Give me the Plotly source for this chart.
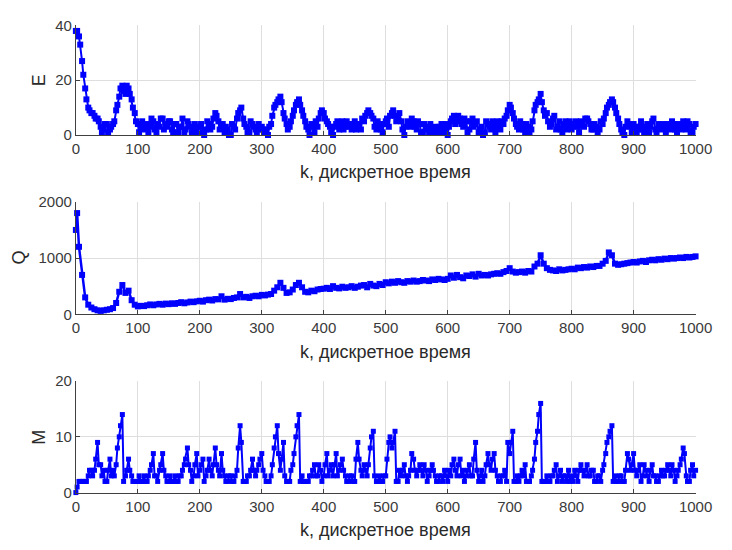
import plotly.graph_objects as go

# discrete time samples (main grid) and the extra in-between samples
k = [0, 2] + list(range(5, 1001, 5))
k_mid = list(range(7, 1000, 5))

E = [38, 38, 36, 27, 17, 10, 8, 7, 6, 3, 2, 4, 2, 4, 9, 14, 18, 15, 17, 13, 8,
     4, 3, 2, 4, 3, 5, 1, 3, 6, 4, 5, 2, 4, 1, 3, 1, 5, 3, 2, 1,
     3, 1, 2, 4, 3, 8, 5, 3, 1, 2, 0, 3, 6, 9, 6, 3, 1, 4, 2, 4,
     3, 1, 0, 4, 10, 12, 14, 8, 4, 3, 7, 11, 13, 9, 5, 2, 4, 1, 3, 8,
     8, 5, 3, 0, 4, 2, 5, 3, 4, 2, 5, 3, 2, 5, 8, 8, 6, 2, 4, 1,
     5, 3, 8, 7, 6, 5, 0, 5, 3, 5, 2, 4, 1, 3, 1, 2, 3, 1, 4, 2,
     0, 5, 7, 5, 6, 3, 5, 2, 6, 4, 1, 3, 1, 4, 2, 3, 5, 2, 4, 7,
     11, 8, 4, 2, 4, 1, 3, 2, 9, 12, 15, 9, 8, 3, 6, 2, 5, 1, 5, 3,
     2, 4, 3, 5, 3, 6, 4, 2, 3, 2, 4, 8, 11, 13, 10, 6, 2, 0, 5, 3,
     4, 1, 3, 2, 3, 1, 5, 2, 4, 2, 3, 4, 2, 4, 1, 3, 5, 2, 4, 1,
     4]

E_mid = [33, 22, 13, 9, 8, 6, 5, 1, 4, 1, 3, 5, 11, 17, 16, 18, 15, 10, 5,
         1, 5, 3, 1, 6, 2, 4, 6, 2, 3, 5, 1, 4, 3, 6, 2, 4, 1, 4, 3,
         4, 0, 5, 2, 6, 7, 2, 4, 3, 0, 4, 2, 8, 10, 4, 1, 5, 3, 1, 2,
         2, 2, 3, 7, 11, 13, 12, 6, 2, 5, 9, 12, 11, 7, 3, 0, 3, 5, 6, 9,
         6, 4, 1, 3, 5, 4, 2, 5, 3, 4, 2, 4, 6, 7, 9, 7, 3, 5, 2, 4,
         6, 7, 9, 5, 8, 2, 3, 4, 6, 3, 5, 1, 4, 2, 4, 1, 2, 3, 1, 4,
         3, 6, 4, 7, 4, 6, 1, 5, 3, 5, 2, 0, 5, 3, 5, 1, 3, 5, 6, 9,
         10, 6, 3, 5, 2, 4, 1, 5, 11, 13, 12, 7, 5, 4, 7, 3, 2, 4, 2, 5,
         3, 5, 1, 4, 6, 5, 2, 4, 1, 5, 6, 10, 12, 12, 8, 4, 1, 3, 4, 1,
         3, 2, 5, 1, 4, 3, 6, 1, 3, 4, 1, 3, 5, 2, 4, 2, 3, 5, 1, 3]

Q = [1500, 1800, 1200, 700, 300, 170, 120, 90, 70, 60, 70, 80, 90, 110, 200, 400, 520, 380, 420, 250, 170,
     140, 150, 145, 160, 175, 160, 175, 185, 170, 190, 180, 195, 185, 200, 215, 195, 210, 225, 215, 230,
     240, 225, 250, 260, 245, 270, 265, 320, 260, 275, 270, 290, 300, 360, 300, 310, 290, 320, 330, 320,
     345, 335, 350, 360, 420, 480, 560, 470, 380, 390, 440, 520, 560, 480, 400, 390, 420, 410, 440, 450,
     455, 470, 450, 500, 470, 460, 490, 470, 480, 500, 470, 490, 510, 520, 480, 540, 510, 500, 540, 520,
     570, 550, 580, 560, 590, 570, 560, 590, 580, 600, 580, 590, 610, 600, 590, 620, 610, 630, 620, 610,
     630, 690, 650, 700, 660, 640, 690, 680, 710, 670, 720, 690, 700, 690, 710, 720, 730, 720, 750, 770,
     820, 760, 740, 750, 760, 740, 770, 760, 850, 900, 1050, 900, 820, 790, 780, 770, 800, 780, 790, 800,
     810, 800, 830, 820, 840, 830, 850, 840, 860, 860, 900, 950, 1100, 1050, 900, 880, 890, 900, 910, 920,
     930, 920, 940, 950, 930, 960, 970, 960, 980, 970, 990, 980, 1000, 990, 1000, 1010, 1000, 1020, 1010, 1020,
     1030]

M = [0, 1, 2, 2, 2, 3, 4, 4, 9, 5, 4, 2, 6, 4, 5, 10, 14, 3, 6, 3, 2,
     2, 2, 3, 2, 4, 7, 3, 4, 7, 3, 2, 2, 3, 2, 3, 5, 8, 4, 3, 7,
     4, 6, 3, 6, 3, 8, 4, 7, 3, 2, 3, 2, 4, 12, 2, 2, 3, 6, 3, 5,
     7, 3, 2, 3, 8, 12, 4, 9, 2, 2, 5, 10, 14, 3, 2, 2, 3, 5, 3, 4,
     3, 7, 4, 3, 7, 4, 6, 3, 2, 3, 2, 9, 4, 5, 3, 8, 11, 2, 3, 2,
     3, 9, 8, 11, 2, 3, 5, 2, 4, 6, 3, 5, 3, 4, 3, 5, 3, 2, 3, 4,
     2, 3, 6, 3, 6, 4, 3, 5, 3, 9, 2, 4, 3, 7, 4, 7, 3, 2, 3, 2,
     7, 11, 2, 2, 4, 5, 2, 3, 6, 11, 16, 2, 3, 2, 3, 5, 3, 2, 3, 4,
     3, 4, 2, 5, 3, 5, 3, 4, 2, 3, 4, 7, 10, 12, 3, 2, 3, 2, 7, 4,
     7, 3, 5, 3, 4, 2, 5, 3, 2, 4, 3, 5, 3, 4, 3, 5, 8, 3, 2, 5,
     4]

M_mid = [2, 2, 2, 4, 3, 6, 5, 3, 2, 4, 3, 3, 8, 12, 2, 4, 4, 2, 2,
         3, 2, 2, 3, 5, 3, 2, 5, 4, 2, 3, 2, 2, 3, 4, 6, 5, 2, 5, 3,
         5, 2, 4, 4, 5, 5, 3, 4, 2, 3, 2, 3, 8, 9, 2, 3, 4, 4, 4, 6,
         4, 2, 2, 5, 10, 7, 6, 3, 2, 4, 7, 12, 2, 2, 2, 3, 4, 3, 5, 2,
         5, 3, 5, 5, 3, 5, 4, 2, 3, 2, 6, 6, 3, 4, 5, 10, 3, 2, 2, 3,
         6, 10, 9, 2, 4, 4, 3, 3, 7, 4, 4, 4, 5, 2, 4, 4, 2, 3, 2, 3,
         4, 5, 4, 5, 3, 2, 4, 3, 6, 4, 3, 2, 5, 5, 6, 4, 2, 3, 4, 9,
         9, 2, 3, 3, 3, 2, 2, 4, 9, 14, 2, 2, 2, 3, 4, 2, 4, 3, 2, 2,
         2, 3, 4, 4, 4, 3, 4, 2, 3, 2, 5, 9, 11, 2, 2, 3, 2, 4, 6, 5,
         4, 4, 2, 5, 3, 4, 3, 2, 3, 3, 4, 4, 5, 2, 4, 6, 7, 2, 4, 3]

x_ticks = [0, 100, 200, 300, 400, 500, 600, 700, 800, 900, 1000]
y_titles = ["E", "Q", "M"]
y_ranges = [[0, 40], [0, 2000], [0, 20]]
y_ticks = [[0, 20, 40], [0, 1000, 2000], [0, 10, 20]]
x_title = "k, дискретное время"


def merge(k_a, v_a, k_b, v_b):
    pairs = sorted(list(zip(k_a, v_a)) + list(zip(k_b, v_b)))
    return [p[0] for p in pairs], [p[1] for p in pairs]


kE, E_all = merge(k, E, k_mid, E_mid)
kM, M_all = merge(k, M, k_mid, M_mid)
series = [(kE, E_all), (k, Q), (kM, M_all)]
marker_sizes = [6, 6, 5]
line_widths = [2, 2.5, 2]

W, H = 732, 550
x0, x1 = 74 / W, 712 / W
y_doms = [(17, 130), (199, 315), (384, 499)]
x_title_y = [168, 354, 538]
y_title_x = [36, 16, 36]

fam = "Liberation Sans, Arial, sans-serif"
tick_font = dict(family=fam, size=15, color="#3a3a3a")
title_font = dict(family=fam, size=18, color="#2a2a2a")

fig = go.Figure()
annotations = []

for i, ((xs, vals), (pt, pb)) in enumerate(zip(series, y_doms)):
    n = "" if i == 0 else str(i + 1)
    fig.add_trace(go.Scatter(
        x=xs, y=vals, mode="lines+markers",
        line=dict(color="#0000ff", width=line_widths[i]),
        marker=dict(symbol="square", size=marker_sizes[i], color="#0000ff"),
        cliponaxis=False, showlegend=False,
        xaxis="x" + n, yaxis="y" + n,
    ))
    common = dict(showgrid=True, gridcolor="#dedede", gridwidth=1,
                  showline=True, linecolor="#404040", linewidth=1,
                  ticks="inside", ticklen=4, tickcolor="#404040",
                  zeroline=False, tickfont=tick_font)
    fig.layout["xaxis" + n] = dict(
        domain=[x0, x1], range=[0, 1000], tickvals=x_ticks,
        anchor="y" + n, **common)
    fig.layout["yaxis" + n] = dict(
        domain=[1 - pb / H, 1 - pt / H], range=y_ranges[i], tickvals=y_ticks[i],
        anchor="x" + n, **common)
    annotations.append(dict(
        text=x_title, xref="paper", yref="paper",
        x=(x0 + x1) / 2, y=1 - x_title_y[i] / H,
        xanchor="center", yanchor="middle", showarrow=False, font=title_font))
    annotations.append(dict(
        text=y_titles[i], xref="paper", yref="paper",
        x=y_title_x[i] / W, y=1 - (pt + pb) / 2 / H,
        xanchor="center", yanchor="middle", textangle=-90,
        showarrow=False, font=title_font))

fig.update_layout(
    width=W, height=H,
    margin=dict(l=0, r=0, t=0, b=0),
    paper_bgcolor="white", plot_bgcolor="white",
    annotations=annotations,
)

fig.write_html("out.html")
